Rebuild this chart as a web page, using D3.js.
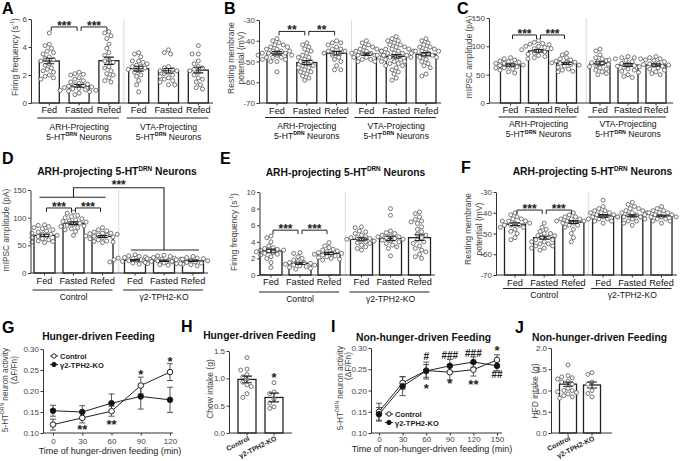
<!DOCTYPE html>
<html>
<head>
<meta charset="utf-8">
<script src="https://cdn.jsdelivr.net/npm/d3@7"></script>
<style>
  body { margin: 0; background: #fff; }
  text { font-family: "Liberation Sans", Arial, sans-serif; }
</style>
</head>
<body>
<svg id="fig" width="685" height="461"></svg>
<script>
var svg = d3.select("#fig");

// ---------- data ----------
var feedCats = ["Fed", "Fasted", "Refed", "Fed", "Fasted", "Refed"];
var tphCats = ["Control", "\u03b32-TPH2-KO"];

// A: firing frequency, ARH vs VTA projecting
var aMeans = [3.0, 1.22, 3.02, 2.45, 2.3, 2.35];
var aSems = [0.2, 0.1, 0.26, 0.17, 0.16, 0.2];
var aPoints = [
  [5.0, 4.2, 4.1, 3.9, 3.7, 3.6, 3.5, 3.3, 3.2, 3.1, 3.0, 2.8, 2.7, 2.5, 2.4, 2.3, 2.2, 2.0, 1.9, 1.8, 1.7],
  [2.2, 2.1, 2.05, 2.0, 1.8, 1.7, 1.6, 1.5, 1.4, 1.35, 1.3, 1.25, 1.2, 1.15, 1.1, 1.05, 1.0, 0.95, 0.9, 0.9, 0.85, 0.8, 0.7, 0.6],
  [5.1, 5.0, 4.8, 4.6, 4.2, 3.9, 3.6, 3.4, 3.1, 3.0, 2.9, 2.6, 2.5, 2.3, 2.1, 2.0, 1.8, 1.6, 1.5],
  [3.6, 3.5, 3.3, 3.0, 3.0, 2.9, 2.8, 2.7, 2.6, 2.6, 2.5, 2.4, 2.3, 2.2, 2.0, 1.9, 1.6, 1.3, 0.8],
  [3.8, 3.6, 3.5, 2.6, 2.5, 2.4, 2.3, 2.3, 2.2, 2.1, 2.0, 1.9, 1.8, 1.7, 1.6, 1.5, 1.3, 1.3],
  [4.1, 3.5, 3.5, 3.0, 2.8, 2.6, 2.5, 2.4, 2.3, 2.2, 2.0, 1.8, 1.7, 1.5, 1.3, 1.1, 1.0]
];

// B: resting membrane potential
var bMeans = [-46, -50.5, -46, -46.5, -47.5, -46.5];
var bSems = [0.8, 1.0, 0.9, 0.6, 0.8, 0.8];
var bPoints = [
  [-39, -40, -41, -42, -42, -43, -43, -44, -44, -45, -45, -45, -46, -46, -46, -47, -47, -47, -48, -48, -48, -49, -49, -50, -50, -55],
  [-41, -42, -43, -44, -45, -46, -47, -48, -48, -49, -50, -50, -51, -52, -52, -53, -53, -54, -55, -55, -56, -57, -58, -59],
  [-40, -41, -41, -42, -43, -44, -44, -45, -45, -46, -46, -47, -48, -49, -50, -52, -54, -54],
  [-40, -41, -42, -43, -43, -44, -44, -45, -45, -45, -46, -46, -46, -47, -47, -47, -48, -48, -48, -49, -49, -50, -50],
  [-38, -39, -40, -40, -41, -42, -42, -43, -43, -44, -44, -44, -45, -45, -45, -46, -46, -46, -47, -47, -47, -48, -48, -48, -49, -49, -50, -50, -50, -51, -51, -52, -52, -53, -54, -55, -56, -58, -59],
  [-39, -40, -41, -42, -43, -43, -44, -44, -45, -45, -45, -46, -46, -47, -47, -48, -48, -49, -50, -51, -52, -53, -56, -57]
];

// C: mIPSC amplitude
var cMeans = [67, 92, 70, 70, 67, 67];
var cSems = [2, 2.5, 2, 2.8, 2.5, 2];
var cPoints = [
  [80, 78, 76, 74, 73, 72, 70, 70, 68, 67, 66, 65, 64, 62, 62, 60, 58, 55, 53],
  [110, 107, 105, 104, 103, 100, 100, 98, 96, 96, 94, 92, 90, 88, 86, 84, 82, 80, 78],
  [88, 85, 80, 78, 76, 74, 72, 72, 71, 70, 68, 67, 65, 63, 60, 58, 56, 55],
  [95, 92, 85, 80, 78, 75, 73, 71, 70, 68, 66, 64, 62, 60, 58, 55, 52, 50],
  [82, 80, 80, 78, 78, 76, 75, 73, 70, 68, 66, 65, 63, 60, 58, 56, 54, 50, 47, 45],
  [82, 80, 78, 76, 75, 73, 70, 69, 68, 67, 66, 65, 64, 62, 60, 58, 55, 52, 50]
];

// D: mIPSC amplitude, control vs KO
var dMeans = [68, 90, 66, 23, 22, 22];
var dSems = [2, 2.5, 1.8, 1.2, 1.2, 1.2];
var dPoints = [
  [87, 86, 84, 82, 80, 78, 76, 74, 72, 70, 70, 68, 67, 66, 64, 62, 60, 58, 57, 56, 55],
  [110, 108, 104, 102, 100, 98, 96, 94, 93, 92, 90, 88, 86, 85, 84, 82, 80, 78, 75, 68],
  [82, 78, 76, 74, 72, 72, 71, 70, 69, 68, 67, 66, 65, 64, 62, 60, 58, 57, 56, 55],
  [33, 31, 30, 29, 28, 27, 26, 25, 25, 24, 23, 22, 22, 21, 20, 19, 18, 17, 16],
  [32, 31, 30, 28, 27, 26, 25, 25, 24, 23, 22, 21, 20, 19, 18, 17, 16, 15, 14],
  [30, 28, 27, 26, 25, 24, 23, 22, 21, 20, 19, 18, 17, 15, 13]
];

// E: firing frequency, control vs KO
var eMeans = [2.9, 1.4, 2.6, 4.3, 4.4, 4.5];
var eSems = [0.22, 0.14, 0.13, 0.18, 0.26, 0.35];
var ePoints = [
  [4.7, 4.5, 4.0, 3.5, 3.3, 3.2, 3.1, 3.0, 3.0, 2.9, 2.8, 2.7, 2.6, 2.5, 2.4, 2.2, 2.0, 1.5, 0.9],
  [2.7, 2.6, 2.2, 2.0, 1.8, 1.6, 1.5, 1.5, 1.4, 1.3, 1.2, 1.2, 1.1, 1.0, 0.9, 0.8, 0.7],
  [3.9, 3.5, 3.3, 3.1, 3.0, 2.9, 2.8, 2.7, 2.6, 2.6, 2.5, 2.4, 2.3, 2.2, 2.1, 2.0, 1.9, 1.8],
  [5.8, 5.7, 5.3, 5.2, 5.0, 4.8, 4.6, 4.5, 4.5, 4.4, 4.3, 4.2, 4.1, 4.0, 3.9, 3.8, 3.6, 3.4, 3.2, 3.0],
  [8.0, 7.2, 5.3, 5.1, 5.0, 4.8, 4.7, 4.6, 4.6, 4.5, 4.4, 4.3, 4.2, 4.1, 4.0, 3.8, 3.6, 3.4, 3.2, 2.3],
  [7.6, 7.4, 7.0, 6.7, 6.5, 6.4, 6.2, 5.8, 5.5, 5.2, 4.9, 4.8, 4.5, 4.2, 4.0, 3.8, 3.5, 3.2, 3.0, 2.8, 2.5, 2.2, 2.0]
];

// F: resting membrane potential, control vs KO
var fMeans = [-45.5, -52, -44.5, -41.5, -41.5, -41.5];
var fSems = [0.7, 0.7, 0.7, 0.6, 0.5, 0.4];
var fPoints = [
  [-40, -41, -42, -43, -43, -44, -44, -44, -45, -45, -46, -46, -46, -47, -47, -48, -49, -50, -52, -53],
  [-45, -47, -48, -49, -50, -50, -51, -51, -52, -52, -53, -53, -54, -54, -55, -55, -56, -56, -57, -57, -58],
  [-40, -41, -42, -42, -43, -43, -43, -44, -44, -44, -45, -45, -46, -46, -47, -48, -50, -52, -54],
  [-34, -37, -38, -39, -39, -40, -40, -40, -41, -41, -42, -42, -42, -43, -43, -43, -44, -44, -45],
  [-35, -36, -37, -38, -38, -39, -39, -40, -40, -40, -41, -41, -42, -42, -42, -43, -43, -44, -44, -45, -46],
  [-37, -38, -39, -39, -40, -40, -40, -41, -41, -41, -42, -42, -42, -42, -43, -43, -44, -44, -45]
];

// G: hunger-driven feeding, photometry
var gTimes = [0, 30, 60, 90, 120];
var gControl = [0.120, 0.136, 0.152, 0.213, 0.245];
var gControlErr = [0.013, 0.012, 0.012, 0.02, 0.02];
var gKO = [0.153, 0.150, 0.171, 0.187, 0.179];
var gKOErr = [0.013, 0.015, 0.022, 0.03, 0.03];
var gMarks = [[30, 0.112, "**"], [60, 0.126, "**"], [90, 0.243, "*"], [120, 0.274, "*"]];

// H: chow intake
var hMeans = [0.98, 0.65];
var hSems = [0.06, 0.08];
var hPoints = [
  [1.38, 1.17, 1.15, 1.07, 1.03, 0.98, 0.93, 0.88, 0.85, 0.72, 0.65],
  [0.92, 0.75, 0.72, 0.62, 0.55, 0.48, 0.45]
];

// I: non-hunger-driven feeding, photometry
var iTimes = [0, 30, 60, 90, 120, 150];
var iControl = [0.150, 0.218, 0.247, 0.243, 0.249, 0.272];
var iControlErr = [0.02, 0.015, 0.02, 0.018, 0.015, 0.012];
var iKO = [0.144, 0.210, 0.246, 0.258, 0.267, 0.258];
var iKOErr = [0.016, 0.022, 0.015, 0.015, 0.012, 0.012];
var iMarks = [[60, 0.281, "#"], [90, 0.284, "###"], [120, 0.288, "###"], [150, 0.298, "*"],
              [60, 0.21, "*"], [90, 0.222, "*"], [120, 0.22, "**"], [150, 0.239, "##"]];

// J: HFD intake
var jMeans = [1.15, 1.13];
var jSems = [0.05, 0.07];
var jPoints = [
  [1.6, 1.35, 1.32, 1.3, 1.27, 1.22, 1.2, 1.15, 1.05, 1.0, 1.0, 0.97, 0.95, 0.92, 0.88, 0.85, 0.82],
  [1.42, 1.38, 1.2, 1.15, 1.0, 0.93, 0.85]
];

// ---------- helpers ----------
function rich(t, segs, fs) {
  var shifted = false;
  segs.forEach(function(s) {
    var ts = t.append("tspan");
    if (typeof s === "string") {
      ts.text(s);
      if (shifted) { ts.attr("dy", fs * 0.4); shifted = false; }
    } else {
      ts.text(s.sup).attr("font-size", fs * 0.62).attr("dy", -fs * 0.4);
      if (s.bold) ts.attr("font-weight", "bold");
      shifted = true;
    }
  });
  return t;
}

function label(x, y, segs, fs, opts) {
  opts = opts || {};
  var t = svg.append("text")
    .attr("x", x).attr("y", y)
    .attr("font-size", fs)
    .attr("text-anchor", opts.anchor || "middle")
    .attr("fill", opts.fill || "#111")
    .attr("font-weight", opts.bold ? "bold" : null);
  if (opts.rotate) t.attr("transform", "rotate(" + opts.rotate + "," + x + "," + y + ")");
  return rich(t, segs, fs);
}

// simple beeswarm: returns x offsets so circles don't overlap
function swarm(vals, y, r) {
  var idx = d3.range(vals.length).sort(function(a, b) { return vals[b] - vals[a]; });
  var placed = [], out = [];
  idx.forEach(function(i) {
    var py = y(vals[i]), dx = 0;
    for (var k = 0; k < 40; k++) {
      dx = (k % 2 ? -1 : 1) * Math.ceil(k / 2) * r;
      var ok = placed.every(function(p) { var a = p[0] - dx, b = p[1] - py; return a * a + b * b >= 4.4 * r * r; });
      if (ok) break;
    }
    placed.push([dx, py]);
    out[i] = dx;
  });
  return out;
}

function styleAxis(sel, fs) {
  sel.selectAll("path, line").attr("stroke", "#333");
  sel.selectAll("text").attr("font-size", fs).attr("fill", "#444")
    .style("font-family", '"Liberation Sans", Arial, sans-serif');
}

function starText(g, x, yb, t, fs) {
  g.append("text").attr("x", x).attr("y", yb).attr("text-anchor", "middle")
    .attr("font-size", fs || 12).attr("font-weight", "bold").attr("fill", "#222").text(t);
}

// bar + scatter panel (A-F, H, J)
function barPanel(c) {
  var g = svg.append("g");
  var n = c.means.length;
  var y = d3.scaleLinear().domain(c.yDomain).range([c.yBot, c.yTop]);
  var p = 1 - c.bw / c.step;
  var x = d3.scaleBand().domain(d3.range(n))
    .range([c.c0 - c.step / 2, c.c0 - c.step / 2 + n * c.step])
    .paddingInner(p).paddingOuter(p / 2);
  var bx = function(i) { return x(i) + (i >= 3 ? (c.gap || 0) : 0); };
  var cx = function(i) { return bx(i) + x.bandwidth() / 2; };

  if (n > 3) {
    var dv = (cx(2) + cx(3)) / 2 + (c.divShift || 0);
    g.append("line").attr("x1", dv).attr("x2", dv).attr("y1", c.yTop).attr("y2", c.yBot)
      .attr("stroke", "#d0d0d0").attr("stroke-width", 0.8);
  }

  g.selectAll(".bar").data(c.means).enter().append("rect")
    .attr("x", function(d, i) { return bx(i); })
    .attr("y", function(d) { return y(d); })
    .attr("width", x.bandwidth())
    .attr("height", function(d) { return c.yBot - y(d); })
    .attr("fill", "#fff").attr("stroke", "#222").attr("stroke-width", 1.3);

  c.points.forEach(function(vals, i) {
    var off = swarm(vals, y, 2.1);
    g.selectAll(".pt" + i).data(vals).enter().append("circle")
      .attr("cx", function(d, j) { return cx(i) + off[j]; })
      .attr("cy", function(d) { return y(d); })
      .attr("r", 2.0)
      .attr("fill", "#fff").attr("stroke", "#555").attr("stroke-width", 0.8);
  });

  c.means.forEach(function(m, i) {
    var s = c.sems[i], xc = cx(i);
    g.append("path")
      .attr("d", "M" + xc + "," + y(m - s) + "V" + y(m + s) +
                 "M" + (xc - 5) + "," + y(m + s) + "H" + (xc + 5) +
                 "M" + (xc - 5) + "," + y(m - s) + "H" + (xc + 5))
      .attr("stroke", "#222").attr("stroke-width", 1.1).attr("fill", "none");
  });

  var ya = g.append("g").attr("transform", "translate(" + c.axisX + ",0)")
    .call(d3.axisLeft(y).tickValues(c.yTicks).tickFormat(c.fmt).tickSize(2.5).tickPadding(1.5).tickSizeOuter(0));
  styleAxis(ya, 8);

  g.append("line").attr("x1", c.axisX).attr("x2", c.axisEnd).attr("y1", c.yBot).attr("y2", c.yBot)
    .attr("stroke", "#333");
  g.selectAll(".xt").data(c.means).enter().append("line")
    .attr("x1", function(d, i) { return cx(i); }).attr("x2", function(d, i) { return cx(i); })
    .attr("y1", c.yBot).attr("y2", c.yBot + 2.5).attr("stroke", "#333");

  if (c.rotated) {
    c.cats.forEach(function(t, i) {
      var lx = cx(i) + 3, ly = c.yBot + 7;
      g.append("text").attr("x", lx).attr("y", ly).attr("text-anchor", "end")
        .attr("font-size", 7).attr("font-weight", "bold").attr("fill", "#222")
        .attr("transform", "rotate(-27," + lx + "," + ly + ")").text(t);
    });
  } else {
    g.selectAll(".cat").data(c.cats).enter().append("text")
      .attr("x", function(d, i) { return cx(i); })
      .attr("y", c.catY).attr("text-anchor", "middle")
      .attr("font-size", 9.2).attr("fill", "#111").text(function(d) { return d; });
  }

  (c.groups || []).forEach(function(gr) {
    var x1 = cx(gr.a) - 12, x2 = cx(gr.b) + 10;
    g.append("line").attr("x1", x1).attr("x2", x2).attr("y1", c.groupLineY).attr("y2", c.groupLineY)
      .attr("stroke", "#222").attr("stroke-width", 1.2);
    gr.lines.forEach(function(segs, k) {
      label((cx(gr.a) + cx(gr.b)) / 2, c.groupLabelY + k * 10, segs, 8.6);
    });
  });

  (c.sig || []).forEach(function(s) {
    var x1 = cx(s.a) + 2, x2 = cx(s.b) - 2, yy = y(s.v);
    g.append("path").attr("d", "M" + x1 + "," + (yy + 4) + "V" + yy + "H" + x2 + "V" + (yy + 4))
      .attr("fill", "none").attr("stroke", "#222").attr("stroke-width", 1);
    starText(g, (x1 + x2) / 2, yy + 3, s.t);
  });

  if (c.stars) c.stars.forEach(function(s) { starText(g, cx(s[0]), y(s[1]) + 6.5, s[2], 13); });

  return { x: cx, y: y, g: g };
}

// line panel (G, I)
function linePanel(c) {
  var g = svg.append("g");
  var x = d3.scaleLinear().domain(c.xDomain).range(c.xRange);
  var y = d3.scaleLinear().domain(c.yDomain).range([c.yBot, c.yTop]);

  var xa = g.append("g").attr("transform", "translate(0," + c.yBot + ")")
    .call(d3.axisBottom(x).tickValues(c.times).tickSize(2.5).tickPadding(c.xPad));
  xa.select(".domain").remove();
  styleAxis(xa, 8);
  g.append("line").attr("x1", c.axisX).attr("x2", c.axisEnd).attr("y1", c.yBot).attr("y2", c.yBot).attr("stroke", "#333");

  var ya = g.append("g").attr("transform", "translate(" + c.axisX + ",0)")
    .call(d3.axisLeft(y).tickValues(d3.range(0.10, 0.301, 0.05)).tickFormat(d3.format(".2f")).tickSize(2.5).tickPadding(1.5).tickSizeOuter(0));
  styleAxis(ya, 8);

  [[c.ctrl, c.ctrlErr], [c.ko, c.koErr]].forEach(function(sr) {
    sr[0].forEach(function(v, i) {
      var xc = x(c.times[i]), e = sr[1][i];
      g.append("path")
        .attr("d", "M" + xc + "," + y(v - e) + "V" + y(v + e) +
                   "M" + (xc - 3) + "," + y(v + e) + "H" + (xc + 3) +
                   "M" + (xc - 3) + "," + y(v - e) + "H" + (xc + 3))
        .attr("stroke", "#444").attr("stroke-width", 0.9).attr("fill", "none");
    });
  });
  var line = d3.line().x(function(d, i) { return x(c.times[i]); }).y(function(d) { return y(d); });
  [c.ctrl, c.ko].forEach(function(sr) {
    g.append("path").attr("d", line(sr)).attr("fill", "none").attr("stroke", "#222").attr("stroke-width", 1);
  });
  [[c.ctrl, "#fff"], [c.ko, "#111"]].forEach(function(sr) {
    g.selectAll(null).data(sr[0]).enter().append("circle")
      .attr("cx", function(d, i) { return x(c.times[i]); })
      .attr("cy", function(d) { return y(d); })
      .attr("r", 2.8).attr("fill", sr[1]).attr("stroke", "#222").attr("stroke-width", 1);
  });

  c.marks.forEach(function(m) {
    var hash = m[2].charAt(0) === "#";
    g.append("text").attr("x", x(m[0])).attr("y", y(m[1]) + (hash ? 4 : 6.5))
      .attr("text-anchor", "middle").attr("font-size", hash ? 10 : 13)
      .attr("font-weight", "bold").attr("fill", "#222").text(m[2]);
  });

  // legend
  [["Control", "#fff"], ["\u03b32-TPH2-KO", "#111"]].forEach(function(l, k) {
    var ly = c.legY + k * 8.5;
    g.append("line").attr("x1", c.legX - 4).attr("x2", c.legX + 4).attr("y1", ly).attr("y2", ly).attr("stroke", "#222");
    g.append("circle").attr("cx", c.legX).attr("cy", ly).attr("r", 2.2).attr("fill", l[1]).attr("stroke", "#222");
    g.append("text").attr("x", c.legX + 6).attr("y", ly + 3).attr("font-size", 7.5).attr("font-weight", "bold")
      .attr("fill", "#222").text(l[0]);
  });

  svg.append("text").attr("x", c.titleX).attr("y", c.titleY).attr("text-anchor", "middle")
    .attr("font-size", 9).attr("fill", "#222").text(c.xTitle);
}

// ---------- panels ----------
var fmtInt = function(d) { return String(d); };
var arhLines = [["ARH-Projecting"], ["5-HT", { sup: "DRN", bold: true }, " Neurons"]];
var vtaLines = [["VTA-Projecting"], ["5-HT", { sup: "DRN", bold: true }, " Neurons"]];
var koGroups = [{ a: 0, b: 2, lines: [["Control"]] }, { a: 3, b: 5, lines: [["\u03b32-TPH2-KO"]] }];

barPanel({ means: aMeans, sems: aSems, points: aPoints, cats: feedCats,
  yDomain: [0, 6], yTicks: [0, 2, 4, 6], fmt: fmtInt, yTop: 19, yBot: 103,
  axisX: 31, axisEnd: 213, c0: 49.3, step: 29.8, bw: 20, gap: 0,
  catY: 113, groupLineY: 118, groupLabelY: 129.5,
  groups: [{ a: 0, b: 2, lines: arhLines }, { a: 3, b: 5, lines: vtaLines }],
  sig: [{ a: 0, b: 1, v: 5.43, t: "***" }, { a: 1, b: 2, v: 5.43, t: "***" }] });

barPanel({ means: bMeans, sems: bSems, points: bPoints, cats: feedCats,
  yDomain: [-70, -30], yTicks: [-70, -60, -50, -40, -30], fmt: fmtInt, yTop: 20, yBot: 103,
  axisX: 259, axisEnd: 441, c0: 277, step: 29.8, bw: 20, gap: 0,
  catY: 113.5, groupLineY: 117.5, groupLabelY: 128.5,
  groups: [{ a: 0, b: 2, lines: arhLines }, { a: 3, b: 5, lines: vtaLines }],
  sig: [{ a: 0, b: 1, v: -35.5, t: "**" }, { a: 1, b: 2, v: -35.5, t: "**" }] });

barPanel({ means: cMeans, sems: cSems, points: cPoints, cats: feedCats,
  yDomain: [0, 150], yTicks: [0, 50, 100, 150], fmt: fmtInt, yTop: 18, yBot: 103,
  axisX: 489, axisEnd: 673, c0: 510.5, step: 28, bw: 20, gap: 5.5, divShift: 3,
  catY: 113, groupLineY: 117, groupLabelY: 127,
  groups: [{ a: 0, b: 2, lines: arhLines }, { a: 3, b: 5, lines: vtaLines }],
  sig: [{ a: 0, b: 1, v: 120, t: "***" }, { a: 1, b: 2, v: 120, t: "***" }] });

var pd = barPanel({ means: dMeans, sems: dSems, points: dPoints, cats: feedCats,
  yDomain: [0, 150], yTicks: [0, 50, 100, 150], fmt: fmtInt, yTop: 190, yBot: 273,
  axisX: 30.5, axisEnd: 208, c0: 44.5, step: 29, bw: 21, gap: 3.5,
  catY: 284, groupLineY: 290, groupLabelY: 299.5, groups: koGroups,
  sig: [{ a: 0, b: 1, v: 117.5, t: "***" }, { a: 1, b: 2, v: 117.5, t: "***" }] });

// D: control vs KO comparison bracket
(function() {
  var yTopLine = pd.y(154), yCtrl = pd.y(137), yKo = pd.y(41.5);
  var xc = pd.x(1), xk = pd.x(4);
  pd.g.append("path")
    .attr("d", "M" + (pd.x(0) - 5) + "," + yCtrl + "H" + (pd.x(2) + 3) +
               "M" + xc + "," + yCtrl + "V" + yTopLine + "H" + xk + "V" + yKo +
               "M" + (pd.x(3) - 4) + "," + yKo + "H" + (pd.x(5) + 6))
    .attr("fill", "none").attr("stroke", "#222").attr("stroke-width", 1.1);
  starText(pd.g, (xc + xk) / 2, yTopLine + 1.5, "***");
})();

barPanel({ means: eMeans, sems: eSems, points: ePoints, cats: feedCats,
  yDomain: [0, 10], yTicks: [0, 2, 4, 6, 8, 10], fmt: fmtInt, yTop: 192, yBot: 275,
  axisX: 259.5, axisEnd: 435, c0: 271, step: 29, bw: 22, gap: 3.5,
  catY: 285, groupLineY: 292, groupLabelY: 301.5, groups: koGroups,
  sig: [{ a: 0, b: 1, v: 5.4, t: "***" }, { a: 1, b: 2, v: 5.4, t: "***" }] });

barPanel({ means: fMeans, sems: fSems, points: fPoints, cats: feedCats,
  yDomain: [-70, -30], yTicks: [-70, -60, -50, -40, -30], fmt: fmtInt, yTop: 192, yBot: 275,
  axisX: 496, axisEnd: 677, c0: 515, step: 29.2, bw: 21, gap: 0.5,
  catY: 285.5, groupLineY: 288.5, groupLabelY: 297.5, groups: koGroups,
  sig: [{ a: 0, b: 1, v: -38.7, t: "***" }, { a: 1, b: 2, v: -38.7, t: "***" }] });

linePanel({ times: gTimes, ctrl: gControl, ctrlErr: gControlErr, ko: gKO, koErr: gKOErr, marks: gMarks,
  xDomain: [0, 120], xRange: [53, 170], yDomain: [0.10, 0.30], yTop: 349, yBot: 433,
  axisX: 43, axisEnd: 173, xPad: 2.5, legX: 54, legY: 356,
  xTitle: "Time of hunger-driven feeding (min)", titleX: 110, titleY: 454 });

barPanel({ means: hMeans, sems: hSems, points: hPoints, cats: tphCats, rotated: true,
  yDomain: [0, 1.5], yTicks: [0, 0.5, 1.0, 1.5], fmt: d3.format(".1f"), yTop: 351, yBot: 433,
  axisX: 229, axisEnd: 292, c0: 247, step: 27, bw: 18, gap: 0,
  stars: [[1, 1.06, "*"]] });

linePanel({ times: iTimes, ctrl: iControl, ctrlErr: iControlErr, ko: iKO, koErr: iKOErr, marks: iMarks,
  xDomain: [0, 150], xRange: [379, 497], yDomain: [0.10, 0.30], yTop: 348, yBot: 433,
  axisX: 371, axisEnd: 502, xPad: 1, legX: 389, legY: 414,
  xTitle: "Time of non-hunger-driven feeding (min)", titleX: 432, titleY: 452 });

barPanel({ means: jMeans, sems: jSems, points: jPoints, cats: tphCats, rotated: true,
  yDomain: [0, 2], yTicks: [0, 0.5, 1.0, 1.5, 2.0], fmt: d3.format(".1f"), yTop: 348, yBot: 433,
  axisX: 551, axisEnd: 612, c0: 568, step: 24, bw: 17, gap: 0 });

// ---------- y axis labels ----------
var yl = { rotate: -90, fill: "#444" };
label(17.5, 57, ["Firing frequency (s", { sup: "-1" }, ")"], 8.5, yl);
label(233.5, 58, ["Resting membrane"], 8.5, yl);
label(244, 58, ["potential (mV)"], 8.5, yl);
label(472, 57, ["mIPSC amplitude (pA)"], 8.3, yl);
label(9, 230, ["mIPSC amplitude (pA)"], 8.3, yl);
label(236.5, 232, ["Firing frequency (s", { sup: "-1" }, ")"], 8.5, yl);
label(471, 229, ["Resting membrane"], 8.5, yl);
label(482, 229, ["potential (mV)"], 8.5, yl);
label(7.5, 390, ["5-HT", { sup: "DRN" }, " neuron activity"], 8.2, yl);
label(16.5, 370, ["(\u0394F/Fn)"], 8.2, yl);
label(213, 389, ["Chow intake (g)"], 8.5, yl);
label(342.5, 388, ["5-HT", { sup: "DRN" }, " neuron activity"], 8.2, yl);
label(351, 366, ["(\u0394F/Fn)"], 8.2, yl);
label(537.5, 391, ["HFD intake (g)"], 8.5, yl);

// ---------- titles ----------
var tt = { bold: true, fill: "#111" };
label(117, 175, ["ARH-projecting 5-HT", { sup: "DRN" }, " Neurons"], 10.3, tt);
label(345.5, 175.5, ["ARH-projecting 5-HT", { sup: "DRN" }, " Neurons"], 10.3, tt);
label(592.5, 175, ["ARH-projecting 5-HT", { sup: "DRN" }, " Neurons"], 10.3, tt);
label(98.5, 339.5, ["Hunger-driven Feeding"], 10.3, tt);
label(259.5, 339, ["Hunger-driven Feeding"], 10.3, tt);
label(423.5, 340.5, ["Non-hunger-driven Feeding"], 10.3, tt);
label(599.5, 341, ["Non-hunger-driven Feeding"], 10.3, tt);

// ---------- panel letters ----------
var letters = [["A", 2, 14], ["B", 224, 14], ["C", 457, 14], ["D", 2, 164], ["E", 220, 164],
               ["F", 461, 173], ["G", 2, 333], ["H", 181, 332], ["I", 331, 332], ["J", 515, 333]];
svg.selectAll(".letter").data(letters).enter().append("text")
  .attr("x", function(d) { return d[1]; }).attr("y", function(d) { return d[2]; })
  .attr("font-size", 16).attr("font-weight", "bold").attr("fill", "#000")
  .text(function(d) { return d[0]; });
</script>
</body>
</html>
